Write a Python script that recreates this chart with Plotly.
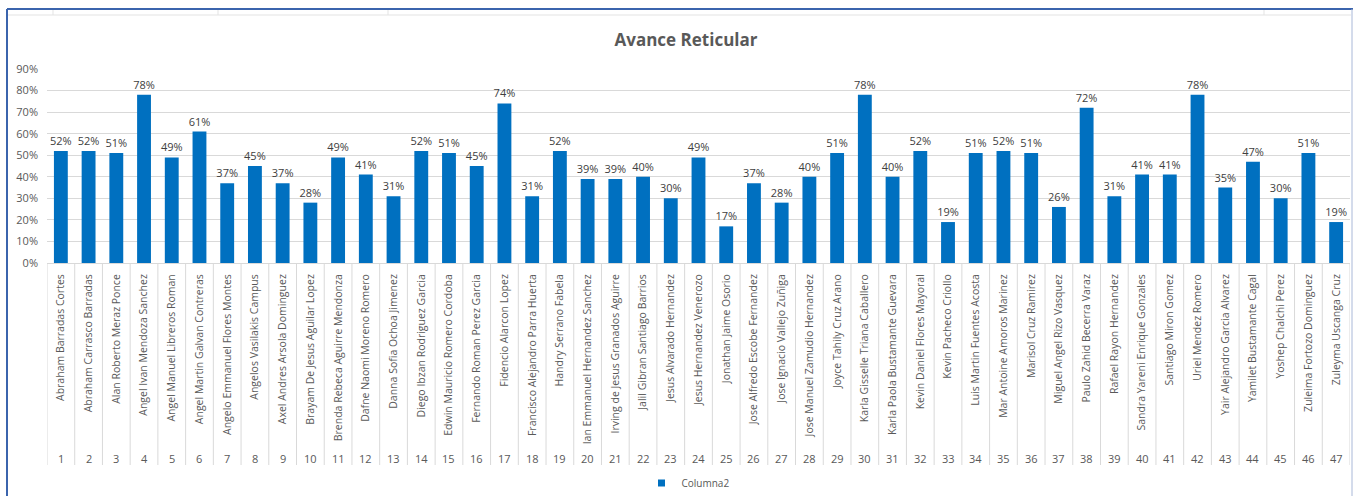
import plotly.graph_objects as go

# Alumnos y porcentaje de avance reticular
alumnos = [
    "Abraham Barradas Cortes", "Abraham Carrasco Barradas", "Alan Roberto Meraz Ponce",
    "Angel Ivan Mendoza Sanchez", "Angel Manuel Libreros Roman", "Angel Martin Galvan Contreras",
    "Angelo Emmanuel Flores Montes", "Angelos Vasilakis Campus", "Axel Andres Arsola Dominguez",
    "Brayam De Jesus Aguilar Lopez", "Brenda Rebeca Aguirre Mendonza", "Dafne Naomi Moreno Romero",
    "Danna Sofia Ochoa Jimenez", "Diego Ibzan Rodriguez Garcia", "Edwin Mauricio Romero Cordoba",
    "Fernando Roman Perez Garcia", "Fidencio Alarcon Lopez", "Francisco Alejandro Parra Huerta",
    "Handry Serrano Fabela", "Ian Emmanuel Hernandez Sanchez", "Irving de Jesus Granados Aguirre",
    "Jalil Gibran Santiago Barrios", "Jesus Alvarado Hernandez", "Jesus Hernandez Venerozo",
    "Jonathan Jaime Osorio", "Jose Alfredo Escobe Fernandez", "Jose Ignacio Vallejo Zuñiga",
    "Jose Manuel Zamudio Hernandez", "Joyce Tahily Cruz Arano", "Karla Gisselle Triana Caballero",
    "Karla Paola Bustamante Guevara", "Kevin Daniel Flores Mayoral", "Kevin Pacheco Criollo",
    "Luis Martin Fuentes Acosta", "Mar Antoine Amoros Marinez", "Marisol Cruz Ramirez",
    "Miguel Angel Rizo Vasquez", "Paulo Zahid Becerra Varaz", "Rafael Rayon Hernandez",
    "Sandra Yareni Enrique Gonzales", "Santiago Miron Gomez", "Uriel Mendez Romero",
    "Yair Alejandro Garcia Alvarez", "Yamilet Bustamante Cagal", "Yoshep Chalchi Perez",
    "Zuleima Fortozo Dominguez", "Zuleyma Uscanga Cruz",
]
numeros = list(range(1, len(alumnos) + 1))
avance = [
    0.52, 0.52, 0.51, 0.78, 0.49, 0.61, 0.37, 0.45, 0.37, 0.28,
    0.49, 0.41, 0.31, 0.52, 0.51, 0.45, 0.74, 0.31, 0.52, 0.39,
    0.39, 0.40, 0.30, 0.49, 0.17, 0.37, 0.28, 0.40, 0.51, 0.78,
    0.40, 0.52, 0.19, 0.51, 0.52, 0.51, 0.26, 0.72, 0.31, 0.41,
    0.41, 0.78, 0.35, 0.47, 0.30, 0.51, 0.19,
]
y_ticks = [0, 0.1, 0.2, 0.3, 0.4, 0.5, 0.6, 0.7, 0.8, 0.9]

FONT = "Open Sans"
GREY = "#595959"
LINE = "#D9D9D9"
BLUE = "#0070C0"

# Figure geometry (pixels)
W, H = 1358, 496
ML, MR, MT, MB = 47, 8, 69, 233
PW, PH = W - ML - MR, H - MT - MB


def px_x(p):
    return (p - ML) / PW


def px_y(p):
    return (H - MB - p) / PH


fig = go.Figure()
fig.add_trace(go.Bar(
    x=alumnos, y=avance, name="Columna2", showlegend=False,
    marker=dict(color=BLUE, line=dict(width=0)),
    texttemplate="%{y:.0%}", textposition="outside", cliponaxis=False,
    constraintext="none",
    textfont=dict(family=FONT, size=11, color="#404040"),
))
# Legend entry with a small square key
fig.add_trace(go.Scatter(
    x=[None], y=[None], mode="markers", name="Columna2",
    marker=dict(symbol="square", size=7, color=BLUE),
))

shapes = []
# Separators between categories on the axis
for i in range(len(alumnos) + 1):
    shapes.append(dict(type="line", xref="x", yref="paper",
                       x0=i - 0.5, x1=i - 0.5, y0=0, y1=px_y(465),
                       line=dict(color=LINE, width=1)))

# Chart frame
shapes.append(dict(type="line", xref="paper", yref="paper",
                   x0=px_x(7), x1=px_x(7), y0=px_y(9), y1=px_y(500),
                   line=dict(color="#3B64AD", width=2)))
shapes.append(dict(type="line", xref="paper", yref="paper",
                   x0=px_x(7), x1=px_x(1353), y0=px_y(9), y1=px_y(9),
                   line=dict(color="#3B64AD", width=2)))
shapes.append(dict(type="line", xref="paper", yref="paper",
                   x0=px_x(1352), x1=px_x(1352), y0=px_y(9), y1=px_y(500),
                   line=dict(color="#A9B8D8", width=1)))
# Sheet cell borders behind the chart
shapes.append(dict(type="line", xref="paper", yref="paper",
                   x0=px_x(8), x1=px_x(1351), y0=px_y(15), y1=px_y(15),
                   line=dict(color="#E3E3E3", width=1)))
for cx in [53, 218, 388, 1264]:
    shapes.append(dict(type="line", xref="paper", yref="paper",
                       x0=px_x(cx), x1=px_x(cx), y0=px_y(10), y1=px_y(15),
                       line=dict(color="#E3E3E3", width=1)))

annotations = []
for i, n in enumerate(numeros):
    annotations.append(dict(x=i, y=px_y(458), xref="x", yref="paper",
                            text=str(n), showarrow=False, yanchor="middle",
                            font=dict(family=FONT, size=11, color=GREY)))

fig.update_layout(
    width=W, height=H,
    margin=dict(l=ML, r=MR, t=MT, b=MB, autoexpand=False),
    paper_bgcolor="white", plot_bgcolor="white",
    title=dict(text="<b>Avance Reticular</b>", x=686 / W,
               xanchor="center", y=1 - 40 / H, yanchor="middle",
               font=dict(family=FONT, size=17, color=GREY)),
    bargap=0.5,
    showlegend=True,
    legend=dict(orientation="h", x=px_x(688), xanchor="center",
                y=px_y(483), yanchor="middle",
                font=dict(family=FONT, size=10, color=GREY),
                itemwidth=30, bgcolor="rgba(0,0,0,0)"),
    xaxis=dict(type="category", tickangle=-90, showgrid=False,
               showline=True, linecolor=LINE, linewidth=1,
               ticks="", ticklabelstandoff=6,
               range=[-0.5, len(alumnos) - 0.5],
               tickfont=dict(family=FONT, size=10.5, color=GREY)),
    yaxis=dict(range=[0, 0.9], tickvals=y_ticks, tickformat=".0%",
               showgrid=True, gridcolor=LINE, gridwidth=1,
               zeroline=False, showline=False, ticks="",
               ticklabelstandoff=8,
               tickfont=dict(family=FONT, size=11, color=GREY)),
    shapes=shapes, annotations=annotations,
)

fig.write_html("out.html")
